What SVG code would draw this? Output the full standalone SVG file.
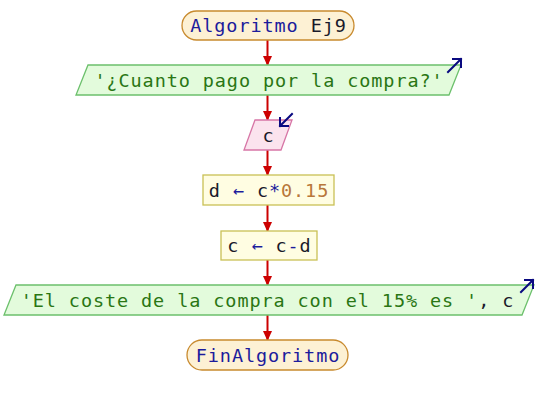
<svg xmlns="http://www.w3.org/2000/svg" width="536" height="405" viewBox="0 0 536 405">
  <style>
    .t { font-family: "DejaVu Sans Mono", "Liberation Mono", monospace; font-size: 18.5px; letter-spacing: 0.9px; text-anchor: middle; }
    .term { fill: #fdf1d4; stroke: #c88a2e; stroke-width: 1.3; }
    .out { fill: #e3fbdc; stroke: #6cc06c; stroke-width: 1.3; }
    .inp { fill: #fbe3ee; stroke: #d776a6; stroke-width: 1.3; }
    .proc { fill: #fffde2; stroke: #c9c155; stroke-width: 1.3; }
    .kw { fill: #1c1c9c; }
    .id { fill: #1a1a2a; }
    .str { fill: #2a7614; }
    .num { fill: #b8773a; }
    .op { fill: #1c1c9c; }
    .flow { stroke: #cc0000; stroke-width: 2; fill: none; }
    .io { stroke: #0a0a80; stroke-width: 2; fill: none; stroke-linecap: square; }
  </style>
  <defs>
    <marker id="ah" markerWidth="10" markerHeight="9" refX="9" refY="4.5" orient="auto" markerUnits="userSpaceOnUse">
      <path d="M0,0 L10,4.5 L0,9 Z" fill="#cc0000"/>
    </marker>
  </defs>

  <!-- flow connectors -->
  <g id="connectors">
    <line class="flow" x1="267.5" y1="40" x2="267.5" y2="65" marker-end="url(#ah)"/>
    <line class="flow" x1="267.5" y1="95" x2="267.5" y2="120" marker-end="url(#ah)"/>
    <line class="flow" x1="267.5" y1="150" x2="267.5" y2="175" marker-end="url(#ah)"/>
    <line class="flow" x1="267.5" y1="205" x2="267.5" y2="231" marker-end="url(#ah)"/>
    <line class="flow" x1="267.5" y1="260" x2="267.5" y2="285" marker-end="url(#ah)"/>
    <line class="flow" x1="267.5" y1="315" x2="267.5" y2="340" marker-end="url(#ah)"/>
  </g>

  <g id="start">
    <rect class="term" x="182" y="11" width="172" height="29" rx="14.5"/>
    <text class="t" x="268.5" y="32"><tspan class="kw">Algoritmo</tspan><tspan class="id"> Ej9</tspan></text>
  </g>

  <g id="out-question">
    <polygon class="out" points="88,65 461,65 449,95 76,95"/>
    <text class="t str" x="269" y="86.5">'¿Cuanto pago por la compra?'</text>
    <path class="io" d="M448,72 L461,59 M453,59 L461,59 L461,67"/>
  </g>

  <g id="in-c">
    <polygon class="inp" points="255,120 292,120 281,150 244,150"/>
    <text class="t id" x="268.5" y="141.5">c</text>
    <path class="io" d="M292,114 L280,126 M280,118 L280,126 L288,126"/>
  </g>

  <g id="assign-d">
    <rect class="proc" x="203" y="175" width="131" height="30"/>
    <text class="t" x="269" y="196.5"><tspan class="id">d</tspan><tspan class="op"> ← </tspan><tspan class="id">c</tspan><tspan class="op">*</tspan><tspan class="num">0.15</tspan></text>
  </g>

  <g id="assign-c">
    <rect class="proc" x="221" y="231" width="96" height="29"/>
    <text class="t" x="269.5" y="252"><tspan class="id">c</tspan><tspan class="op"> ← </tspan><tspan class="id">c</tspan><tspan class="op">-</tspan><tspan class="id">d</tspan></text>
  </g>

  <g id="out-result">
    <polygon class="out" points="16,285 534,285 522,315 4,315"/>
    <text class="t" x="267.5" y="306.5"><tspan class="str">'El coste de la compra con el 15% es '</tspan><tspan class="id">, c</tspan></text>
    <path class="io" d="M521,292 L533,280 M525,280 L533,280 L533,288"/>
  </g>

  <g id="end">
    <rect class="term" x="187" y="340" width="161" height="30" rx="15"/>
    <text class="t kw" x="268" y="361.5">FinAlgoritmo</text>
  </g>
</svg>
